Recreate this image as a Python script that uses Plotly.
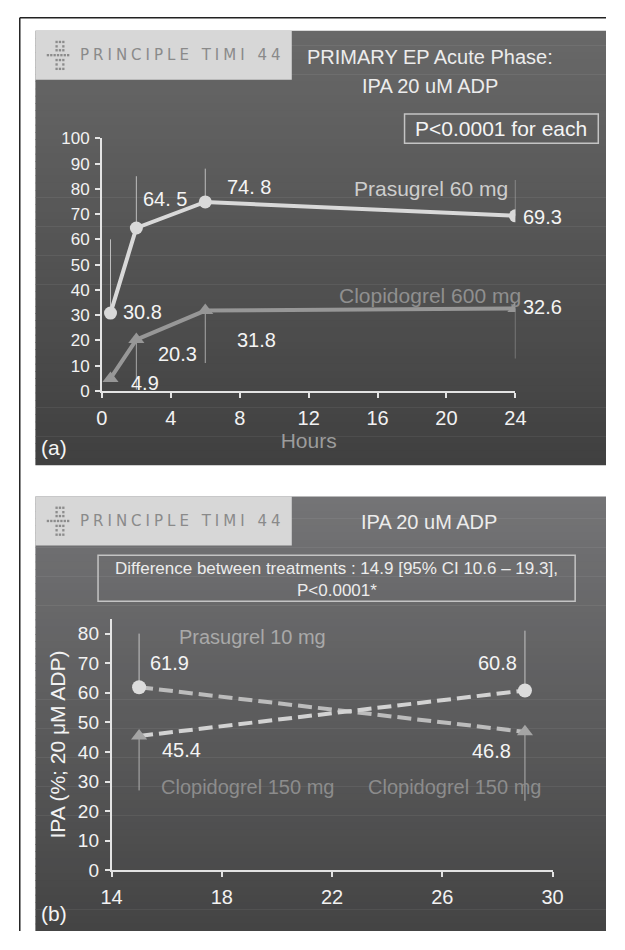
import plotly.graph_objects as go

# The page body keeps its default 8px margin, so the figure is sized to fit
# inside the 625x950 window and all positions below are given in window pixels.
OFF = 8
W, H = 625 - 2 * OFF, 950 - 2 * OFF

# ---------------- data: panel (a) ----------------
hours_a = [0.5, 2, 6, 24]
prasugrel_60 = [30.8, 64.5, 74.8, 69.3]
prasugrel_60_upper = [60, 85, 88, 83.5]
prasugrel_60_labels = ["30.8", "64. 5", "74. 8", "69.3"]
clopidogrel_600 = [4.9, 20.3, 31.8, 32.6]
clopidogrel_600_lower = [4.9, 0.5, 11, 12.8]
clopidogrel_600_labels = ["4.9", "20.3", "31.8", "32.6"]
xticks_a = [0, 4, 8, 12, 16, 20, 24]
yticks_a = [0, 10, 20, 30, 40, 50, 60, 70, 80, 90, 100]

# ---------------- data: panel (b) ----------------
hours_b = [15, 29]
prasugrel_10 = [61.9, 60.8]
prasugrel_10_upper = [80, 81]
prasugrel_10_labels = ["61.9", "60.8"]
clopidogrel_150 = [45.4, 46.8]
clopidogrel_150_lower = [27, 23.5]
clopidogrel_150_labels = ["45.4", "46.8"]
sequence_pc = [prasugrel_10[0], clopidogrel_150[1]]   # prasugrel then clopidogrel
sequence_cp = [clopidogrel_150[0], prasugrel_10[1]]   # clopidogrel then prasugrel
xticks_b = [14, 18, 22, 26, 30]
yticks_b = [0, 10, 20, 30, 40, 50, 60, 70, 80]

FONT = "Liberation Sans, Arial, sans-serif"


def px(x):
    return (x - OFF) / W


def py(y):
    return 1 - (y - OFF) / H


def mix(c0, c1, t):
    return "rgb(%d,%d,%d)" % tuple(round(a + (b - a) * t) for a, b in zip(c0, c1))


shapes = []


def gradient(y0, y1, c0, c1, n=60):
    step = (y1 - y0) / n
    for i in range(n):
        shapes.append(dict(type="rect", xref="paper", yref="paper", layer="below",
                           x0=px(25), x1=px(617), y0=py(min(y0 + step * (i + 1) + 0.6, y1)),
                           y1=py(y0 + step * i), fillcolor=mix(c0, c1, i / (n - 1)),
                           line=dict(width=0)))


def logo(top):
    shapes.append(dict(type="rect", xref="paper", yref="paper", layer="below",
                       x0=px(25), x1=px(291), y0=py(top + 50), y1=py(top),
                       fillcolor="#d7d7d7", line=dict(width=0)))
    rows = {11.5: [47, 50.5, 54], 16: [47, 54], 20: [47, 50.5, 54],
            25: [38, 41.5, 45, 48.5, 52, 55.5, 59], 30: [47, 50.5, 54],
            34.5: [47, 54], 39: [47, 50.5, 54]}
    for dy, xs in rows.items():
        for x in xs:
            shapes.append(dict(type="rect", xref="paper", yref="paper", layer="below",
                               x0=px(x - 1.2), x1=px(x + 1.2), y0=py(top + dy + 1.2),
                               y1=py(top + dy - 1.2), fillcolor="#8c8c8c", line=dict(width=0)))


def box(x0, y0, x1, y1):
    shapes.append(dict(type="rect", xref="paper", yref="paper",
                       x0=px(x0), x1=px(x1), y0=py(y1), y1=py(y0),
                       line=dict(color="#c4c4c4", width=1.5), fillcolor="rgba(0,0,0,0)"))


# page frame lines (left and top)
shapes.append(dict(type="line", xref="paper", yref="paper", x0=px(8.8), x1=px(8.8),
                   y0=0, y1=py(8.8), line=dict(color="#222", width=1.5)))
shapes.append(dict(type="line", xref="paper", yref="paper", x0=px(8.8), x1=1,
                   y0=py(8.8), y1=py(8.8), line=dict(color="#222", width=1.5)))

gradient(22, 466, (104, 104, 104), (64, 64, 64))
gradient(498, 942, (116, 116, 118), (68, 68, 68))
logo(22)
logo(498)
box(408, 107, 609, 137)
box(90, 558, 585, 605)

fig = go.Figure()

# ---- panel (a) traces ----
fig.add_trace(go.Scatter(
    x=hours_a, y=clopidogrel_600, mode="lines+markers", name="Clopidogrel 600 mg",
    line=dict(color="#979797", width=4),
    marker=dict(symbol="triangle-up", size=14, color="#979797"),
    error_y=dict(type="data", symmetric=False,
                 array=[0] * len(hours_a),
                 arrayminus=[v - lo for v, lo in zip(clopidogrel_600, clopidogrel_600_lower)],
                 color="#a8a8a8", thickness=1, width=0),
    xaxis="x", yaxis="y", showlegend=False))
fig.add_trace(go.Scatter(
    x=hours_a, y=prasugrel_60, mode="lines+markers", name="Prasugrel 60 mg",
    line=dict(color="#d9d9d9", width=4),
    marker=dict(symbol="circle", size=13, color="#d9d9d9"),
    error_y=dict(type="data", symmetric=False,
                 array=[hi - v for v, hi in zip(prasugrel_60, prasugrel_60_upper)],
                 arrayminus=[0] * len(hours_a),
                 color="#bdbdbd", thickness=1, width=0),
    xaxis="x", yaxis="y", showlegend=False))

# ---- panel (b) traces ----
fig.add_trace(go.Scatter(
    x=hours_b, y=sequence_pc, mode="lines", line=dict(color="#bcbcbc", width=4, dash="14px,6px"),
    xaxis="x2", yaxis="y2", showlegend=False, hoverinfo="skip"))
fig.add_trace(go.Scatter(
    x=hours_b, y=sequence_cp, mode="lines", line=dict(color="#d2d2d2", width=4, dash="14px,6px"),
    xaxis="x2", yaxis="y2", showlegend=False, hoverinfo="skip"))
fig.add_trace(go.Scatter(
    x=hours_b, y=clopidogrel_150, mode="markers", name="Clopidogrel 150 mg",
    marker=dict(symbol="triangle-up", size=14, color="#a4a4a4"),
    error_y=dict(type="data", symmetric=False, array=[0, 0],
                 arrayminus=[v - lo for v, lo in zip(clopidogrel_150, clopidogrel_150_lower)],
                 color="#b0b0b0", thickness=1, width=0),
    xaxis="x2", yaxis="y2", showlegend=False))
fig.add_trace(go.Scatter(
    x=hours_b, y=prasugrel_10, mode="markers", name="Prasugrel 10 mg",
    marker=dict(symbol="circle", size=14, color="#dcdcdc"),
    error_y=dict(type="data", symmetric=False,
                 array=[hi - v for v, hi in zip(prasugrel_10, prasugrel_10_upper)],
                 arrayminus=[0, 0], color="#c4c4c4", thickness=1, width=0),
    xaxis="x2", yaxis="y2", showlegend=False))

ann = []


def label(text, x, y, xs, ys, xref, yref, size=20, color="#f4f4f4", family=FONT):
    ann.append(dict(text=text, x=x, y=y, xref=xref, yref=yref, xshift=xs, yshift=ys,
                    xanchor="center", yanchor="middle", showarrow=False,
                    font=dict(family=family, size=size, color=color)))


# data labels (a)
shifts_p60 = [(32, 1), (29, 29), (44, 15), (27, -1)]
for h, v, t, (xs, ys) in zip(hours_a, prasugrel_60, prasugrel_60_labels, shifts_p60):
    label(t, h, v, xs, ys, "x", "y")
shifts_c600 = [(34, -5), (41, -14), (51, -29), (27, 2)]
for h, v, t, (xs, ys) in zip(hours_a, clopidogrel_600, clopidogrel_600_labels, shifts_c600):
    label(t, h, v, xs, ys, "x", "y")
label("Prasugrel 60 mg", 19.08, 80.2, 0, 0, "x", "y", size=21, color="#cdcdcd")
label("Clopidogrel 600 mg", 19.05, 37.6, 0, 0, "x", "y", size=21, color="#8f8f8f")

# data labels (b)
shifts_p10 = [(30, 24), (-27, 27)]
for h, v, t, (xs, ys) in zip(hours_b, prasugrel_10, prasugrel_10_labels, shifts_p10):
    label(t, h, v, xs, ys, "x2", "y2")
shifts_c150 = [(42, -14), (-33, -19)]
for h, v, t, (xs, ys) in zip(hours_b, clopidogrel_150, clopidogrel_150_labels, shifts_c150):
    label(t, h, v, xs, ys, "x2", "y2")
label("Prasugrel 10 mg", 19.1, 79, 0, 0, "x2", "y2", color="#a9a9a9")
label("Clopidogrel 150 mg", 18.93, 28.1, 0, 0, "x2", "y2", color="#8c8c8c")
label("Clopidogrel 150 mg", 26.44, 28.1, 0, 0, "x2", "y2", color="#8c8c8c")

# titles, boxes and panel letters
label("PRIMARY EP Acute Phase:", px(434.5), py(49), 0, 0, "paper", "paper", size=20, color="#ececec")
label("IPA 20 uM ADP", px(434.5), py(79), 0, 0, "paper", "paper", size=20, color="#ececec")
label("P<0.0001 for each", px(508.5), py(122), 0, 0, "paper", "paper", size=21, color="#f4f4f4")
label("IPA 20 uM ADP", px(433), py(524), 0, 0, "paper", "paper", size=20, color="#ececec")
label("Difference between treatments : 14.9 [95% CI 10.6 \u2013 19.3],", px(337.5), py(572), 0, 0,
      "paper", "paper", size=17, color="#ececec")
label("P<0.0001*", px(337.5), py(594), 0, 0, "paper", "paper", size=17, color="#ececec")
label("(a)", px(44.5), py(448), 0, 0, "paper", "paper", size=21, color="#f4f4f4")
label("(b)", px(44.5), py(924), 0, 0, "paper", "paper", size=21, color="#f4f4f4")
for top in (22, 498):
    label('<span style="letter-spacing:4px">PRINCIPLE TIMI 44</span>', px(177), py(top + 25), 0, 0,
          "paper", "paper", size=15, color="#8a8a8a", family="DejaVu Sans, sans-serif")

AX = dict(showline=True, linecolor="#e4e4e4", linewidth=1.5, ticks="outside", ticklen=5,
          tickwidth=1.5, tickcolor="#e4e4e4", showgrid=False, zeroline=False, fixedrange=True)

fig.update_layout(
    width=W, height=H, margin=dict(l=0, r=0, t=0, b=0),
    paper_bgcolor="white", plot_bgcolor="rgba(0,0,0,0)",
    font=dict(family=FONT, color="#f0f0f0"),
    shapes=shapes, annotations=ann,
    xaxis=dict(AX, domain=[px(94), px(523)], range=[0, 24], tickvals=xticks_a, anchor="y",
               tickfont=dict(size=20, color="#f2f2f2"), ticklabelstandoff=3,
               title=dict(text="Hours", font=dict(size=21, color="#9c9c9c"), standoff=6)),
    yaxis=dict(AX, domain=[py(390), py(132)], range=[0, 100], tickvals=yticks_a, anchor="x",
               tickfont=dict(size=17, color="#f2f2f2"), ticklabelstandoff=2),
    xaxis2=dict(AX, domain=[px(104), px(561.5)], range=[14, 30], tickvals=xticks_b, anchor="y2",
                tickfont=dict(size=20, color="#f2f2f2"), ticklabelstandoff=3),
    yaxis2=dict(AX, domain=[py(880), py(623)], range=[0, 85], tickvals=yticks_b, anchor="x2",
                tickfont=dict(size=19, color="#f2f2f2"), ticklabelstandoff=2,
                title=dict(text="IPA (%; 20 \u03bcM ADP)", font=dict(size=21, color="#f2f2f2"),
                           standoff=6)),
)

fig.write_html("out.html")
